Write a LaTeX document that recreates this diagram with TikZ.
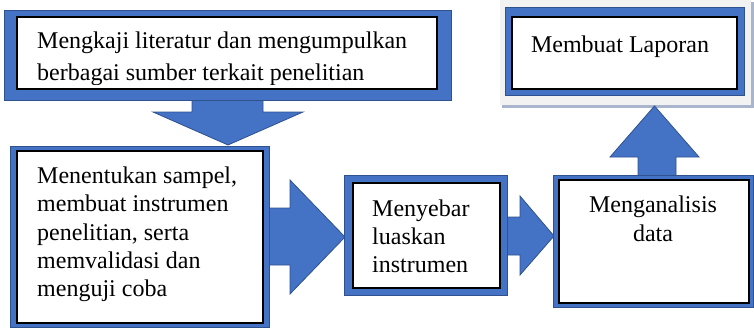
\documentclass[tikz,border=0pt]{standalone}
\usepackage{fontspec}
\setmainfont{Liberation Serif}
\definecolor{wblue}{HTML}{4472C4}
\definecolor{wbord}{HTML}{2F528F}
\definecolor{wgray}{HTML}{F2F2F2}
\definecolor{wshad}{HTML}{A9B5CC}
\begin{document}
\begin{tikzpicture}[x=1pt,y=-1pt,
  bluebox/.style={fill=wblue,draw=wbord,line width=0.8pt},
  whitebox/.style={fill=white,draw=black,line width=1.2pt},
  arrowshape/.style={fill=wblue,draw=wbord,line width=0.8pt,line join=miter},
  txt/.style={inner sep=0pt,font=\fontsize{24}{28.3}\selectfont}]
\useasboundingbox (0,0) rectangle (754,330);
% box 5 frame
\fill[wshad] (502,2) rectangle (754,108);
\fill[wgray] (500,0) rectangle (751,105);
% arrows
\draw[arrowshape] (192,99) -- (263,99) -- (263,112) -- (303,112) -- (228,145) -- (153,112) -- (192,112) -- cycle;
\draw[arrowshape] (268,208) -- (290,208) -- (290,180) -- (345,237) -- (290,294) -- (290,265) -- (268,265) -- cycle;
\draw[arrowshape] (506,217) -- (520,217) -- (520,196) -- (554,236) -- (520,275) -- (520,255) -- (506,255) -- cycle;
\draw[arrowshape] (638,176) -- (638,157) -- (610,157) -- (654.5,106) -- (699,157) -- (676,157) -- (676,176) -- cycle;
% box 1
\draw[bluebox] (4,10) rectangle (451,100);
\draw[whitebox] (17,17) rectangle (437,89);
\begin{scope}
\clip (17,17) rectangle (437,84);
\node[txt,anchor=base west,align=left,font=\fontsize{24}{32}\selectfont] (t1) at (37,80) {Mengkaji literatur dan mengumpulkan\\berbagai sumber terkait penelitian};
\end{scope}
% box 2
\draw[bluebox] (10,146) rectangle (269,327);
\draw[whitebox] (17,151) rectangle (263,323);
\node[txt,anchor=base west,align=left] (t2) at (37,296.7) {Menentukan sampel,\\membuat instrumen\\penelitian, serta\\memvalidasi dan\\menguji coba};
% box 3
\draw[bluebox] (344,175) rectangle (507,295);
\draw[whitebox] (353,183) rectangle (500,288);
\node[txt,anchor=base west,align=left,font=\fontsize{24}{28}\selectfont] (t3) at (372,272) {Menyebar\\luaskan\\instrumen};
% box 4
\draw[bluebox] (553,175) rectangle (753.5,307);
\draw[whitebox] (559,180) rectangle (749,303);
\node[txt,anchor=base,align=center,font=\fontsize{24}{29}\selectfont] (t4) at (653,241) {Menganalisis\\data};
% box 5
\draw[bluebox] (505,7) rectangle (744,95);
\draw[whitebox] (512,17) rectangle (737,89);
\node[txt,anchor=base] (t5) at (620,52) {Membuat Laporan};
\end{tikzpicture}
\end{document}
